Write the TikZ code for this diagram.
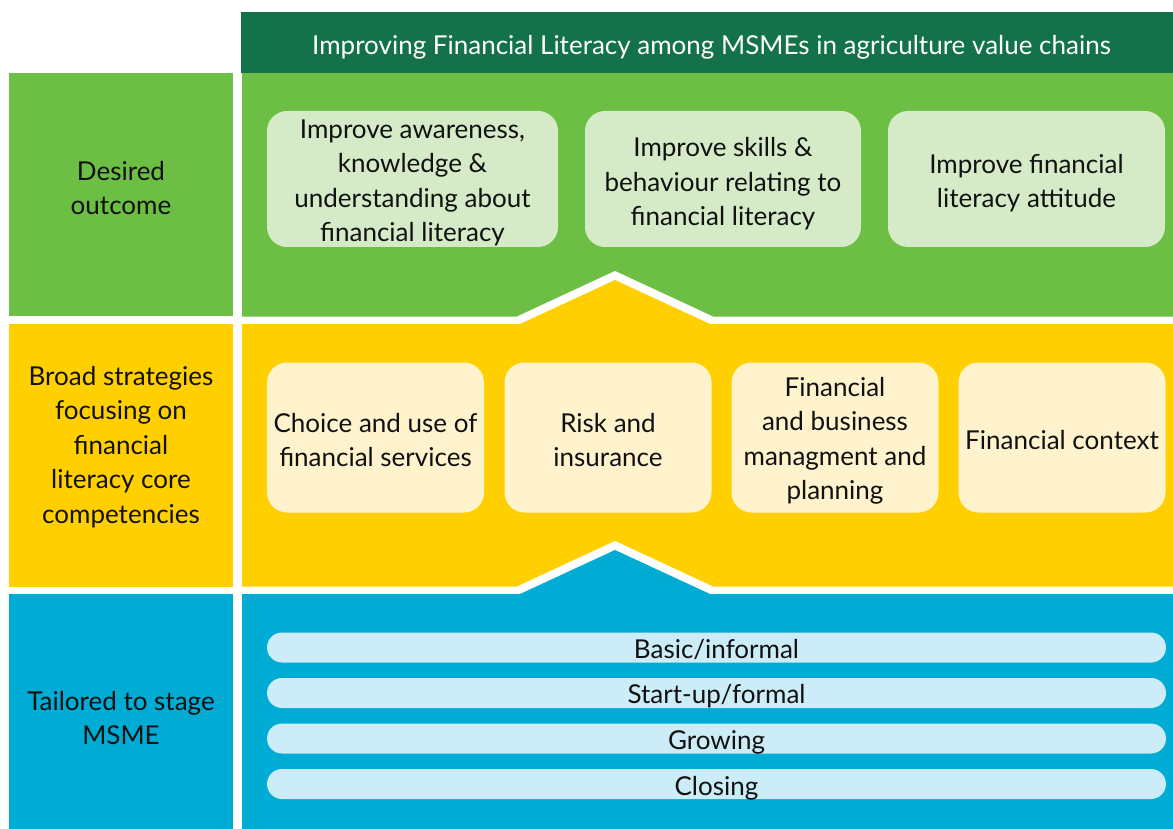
\documentclass[tikz,border=0pt]{standalone}
\usepackage{fontspec}
\setmainfont{Lato}
\definecolor{hdr}{HTML}{137249}
\definecolor{grn}{HTML}{6CBE45}
\definecolor{lgrn}{HTML}{D5EBC8}
\definecolor{yel}{HTML}{FFCF00}
\definecolor{lyel}{HTML}{FEF3CD}
\definecolor{blu}{HTML}{00ABD4}
\definecolor{lblu}{HTML}{CCEDF7}
\definecolor{ink}{HTML}{111111}
\tikzset{
  txt/.style={font=\fontsize{26}{34.5}\selectfont, align=center, text=ink, inner sep=0pt},
  band/.style={inner sep=0pt, outer sep=0pt, minimum width=224pt},
  outbox/.style={txt, fill=lgrn, rounded corners=20pt, minimum height=136pt},
  compbox/.style={txt, fill=lyel, rounded corners=20pt, minimum width=207pt, minimum height=150pt},
  pill/.style={txt, fill=lblu, rounded corners=15pt, minimum width=899pt, minimum height=30pt},
}
\begin{document}
\begin{tikzpicture}[x=1pt,y=-1pt]
\useasboundingbox (0,0) rectangle (1173,829);
\fill[white] (0,0) rectangle (1173,829);
% left column bands
\node[band, fill=grn, minimum height=243pt] (lg) at (121,194.5) {};
\node[band, fill=yel, minimum height=263pt] (ly) at (121,455.5) {};
\node[band, fill=blu, minimum height=235pt] (lb) at (121,711.5) {};
% header
\node[inner sep=0pt, fill=hdr, minimum width=932pt, minimum height=61pt] (hd) at (707,42.5) {};
\node[txt, text=white] (ht) at (711.5,47) {Improving Financial Literacy among MSMEs in agriculture value chains};
% right green area
\fill[grn] (242,73) rectangle (1173,316.5);
% white chevron gap + yellow area
\fill[white] (242,316.5) -- (517,316.5) -- (615,271) -- (713,316.5) -- (1173,316.5) -- (1173,587) -- (242,587) -- cycle;
\fill[yel] (242,324) -- (520,324) -- (615,280) -- (710,324) -- (1173,324) -- (1173,587) -- (242,587) -- cycle;
% white chevron gap + blue area
\fill[white] (242,586.5) -- (517,586.5) -- (615,541) -- (713,586.5) -- (1173,586.5) -- (1173,829) -- (242,829) -- cycle;
\fill[blu] (242,594) -- (520,594) -- (615,550) -- (710,594) -- (1173,594) -- (1173,829) -- (242,829) -- cycle;
% left labels
\node[txt] (l1) at (121,188) {Desired\\outcome};
\node[txt] (l2) at (121,447) {Broad strategies\\focusing on\\financial\\literacy core\\competencies};
\node[txt] (l3) at (121,718) {Tailored to stage\\MSME};
% outcome boxes
\node[outbox, minimum width=291pt] (o1) at (412.5,179) {};
\node[txt] (o1t) at (412.5,183) {Improve awareness,\\knowledge \&\\understanding about\\financial literacy};
\node[outbox, minimum width=276pt] (o2) at (723,179) {};
\node[txt] (o2t) at (723,184) {Improve skills \&\\behaviour relating to\\financial literacy};
\node[outbox, minimum width=277pt] (o3) at (1026.5,179) {};
\node[txt] (o3t) at (1026.5,183) {Improve financial\\literacy attitude};
% competency boxes
\node[compbox, minimum width=217pt] (c1) at (375.5,437.5) {};
\node[txt] (c1t) at (375.5,440) {Choice and use of\\financial services};
\node[compbox] (c2) at (608,437.5) {};
\node[txt] (c2t) at (608,440) {Risk and\\insurance};
\node[compbox] (c3) at (835,437.5) {};
\node[txt] (c3t) at (835,441) {Financial\\and business\\managment and\\planning};
\node[compbox] (c4) at (1062,437.5) {};
\node[txt] (c4t) at (1062,440) {Financial context};
% stage pills
\node[pill] (p1) at (716.5,647.5) {};
\node[txt] (p1t) at (716.5,649.5) {Basic/informal};
\node[pill] (p2) at (716.5,693) {};
\node[txt] (p2t) at (716.5,696) {Start-up/formal};
\node[pill] (p3) at (716.5,738.5) {};
\node[txt] (p3t) at (716.5,742) {Growing};
\node[pill] (p4) at (716.5,784) {};
\node[txt] (p4t) at (716.5,788) {Closing};
\end{tikzpicture}
\end{document}
